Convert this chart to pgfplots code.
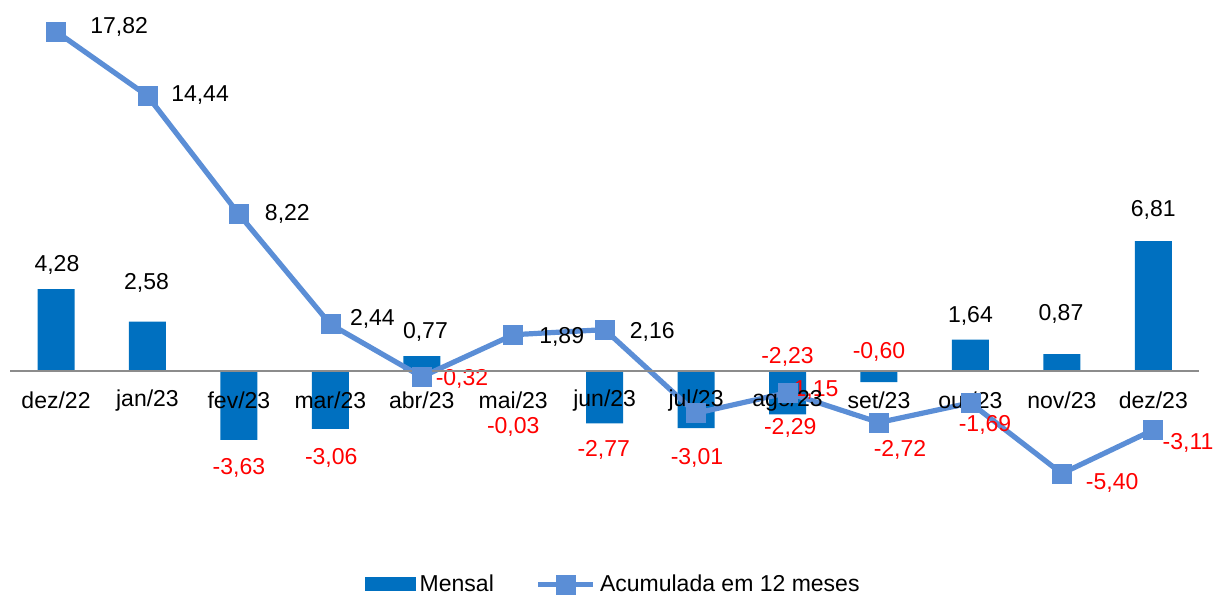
\documentclass[border=0pt]{standalone}
\usepackage{fontspec}
\setmainfont{Liberation Sans}
\usepackage{pgfplots}
\pgfplotsset{compat=1.18}
\definecolor{barblue}{HTML}{0070C0}
\definecolor{lineblue}{HTML}{5B8ED6}
\definecolor{zerogray}{HTML}{8C8C8C}
\definecolor{negred}{HTML}{FF0000}
\newcommand\lf{\fontsize{11.5bp}{13.8bp}\selectfont}
\begin{document}
\begin{tikzpicture}
\useasboundingbox (0,0) rectangle (608bp,297.5bp);
\begin{axis}[
  at={(5.15bp,45.5bp)}, anchor=south west,
  scale only axis, width=594.35bp, height=247.5bp,
  xmin=-0.5, xmax=12.5, ymin=-7, ymax=19,
  clip=false, axis on top,
  axis y line=none, axis x line=middle,
  x axis line style={-, zerogray, line width=0.8bp},
  xtick={0,...,12},
  xticklabels={dez/22,jan/23,fev/23,mar/23,abr/23,mai/23,jun/23,jul/23,ago/23,set/23,out/23,nov/23,dez/23},
  major tick length=0pt,
  xticklabel style={anchor=center, yshift=-15bp, font=\lf, text=black},
  legend style={at={(0.508,-0.1626)}, anchor=center, draw=none, fill=none,
    legend columns=2, font=\lf, inner sep=0pt,
    /tikz/every even column/.append style={column sep=19bp}},
  legend cell align=left,
]
\addplot[ybar, bar width=18.5bp, fill=barblue, draw=none,
  legend image code/.code={\fill[barblue] (0bp,-3.5bp) rectangle (25.5bp,3.5bp);}]
  coordinates {(0,4.28) (1,2.58) (2,-3.63) (3,-3.06) (4,0.77) (5,-0.03) (6,-2.77) (7,-3.01) (8,-2.29) (9,-0.60) (10,1.64) (11,0.87) (12,6.81)};
\addlegendentry{Mensal}
\addplot[lineblue, line width=2.6bp, mark=square*, mark size=4.75bp,
  mark options={solid, line width=0.3bp, fill=lineblue, draw=lineblue},
  legend image code/.code={\draw[mark repeat=2,mark phase=2] plot coordinates {(0bp,0bp) (13.75bp,0bp) (27.5bp,0bp)};}]
  coordinates {(0,17.82) (1,14.44) (2,8.22) (3,2.44) (4,-0.32) (5,1.89) (6,2.16) (7,-2.23) (8,-1.15) (9,-2.72) (10,-1.69) (11,-5.40) (12,-3.11)};
\addlegendentry{Acumulada em 12 meses}
% bar labels
\node[font=\lf] at (axis cs:0.01,5.56) {4,28};
\node[font=\lf] at (axis cs:0.99,4.62) {2,58};
\node[font=\lf,text=negred] at (axis cs:2.0,-5.09) {-3,63};
\node[font=\lf,text=negred] at (axis cs:3.01,-4.57) {-3,06};
\node[font=\lf] at (axis cs:4.04,2.05) {0,77};
\node[font=\lf,text=negred] at (axis cs:5.0,-2.94) {-0,03};
\node[font=\lf,text=negred] at (axis cs:5.99,-4.15) {-2,77};
\node[font=\lf,text=negred] at (axis cs:7.01,-4.57) {-3,01};
\node[font=\lf,text=negred] at (axis cs:8.03,-2.99) {-2,29};
\node[font=\lf,text=negred] at (axis cs:9.0,1.0) {-0,60};
\node[font=\lf] at (axis cs:10.0,2.89) {1,64};
\node[font=\lf] at (axis cs:10.99,2.99) {0,87};
\node[font=\lf] at (axis cs:12.0,8.45) {6,81};
% line labels
\node[font=\lf] at (axis cs:0.69,18.06) {17,82};
\node[font=\lf] at (axis cs:1.575,14.49) {14,44};
\node[font=\lf] at (axis cs:2.53,8.24) {8,22};
\node[font=\lf] at (axis cs:3.46,2.73) {2,44};
\node[font=\lf,text=negred] at (axis cs:4.44,-0.42) {-0,32};
\node[font=\lf] at (axis cs:5.53,1.78) {1,89};
\node[font=\lf] at (axis cs:6.52,2.05) {2,16};
\node[font=\lf,text=negred] at (axis cs:8.0,0.73) {-2,23};
\node[font=\lf,text=negred] at (axis cs:8.27,-1.0) {-1,15};
\node[font=\lf,text=negred] at (axis cs:9.23,-4.15) {-2,72};
\node[font=\lf,text=negred] at (axis cs:10.16,-2.83) {-1,69};
\node[font=\lf,text=negred] at (axis cs:11.55,-5.88) {-5,40};
\node[font=\lf,text=negred] at (axis cs:12.38,-3.78) {-3,11};
\end{axis}
\end{tikzpicture}
\end{document}
